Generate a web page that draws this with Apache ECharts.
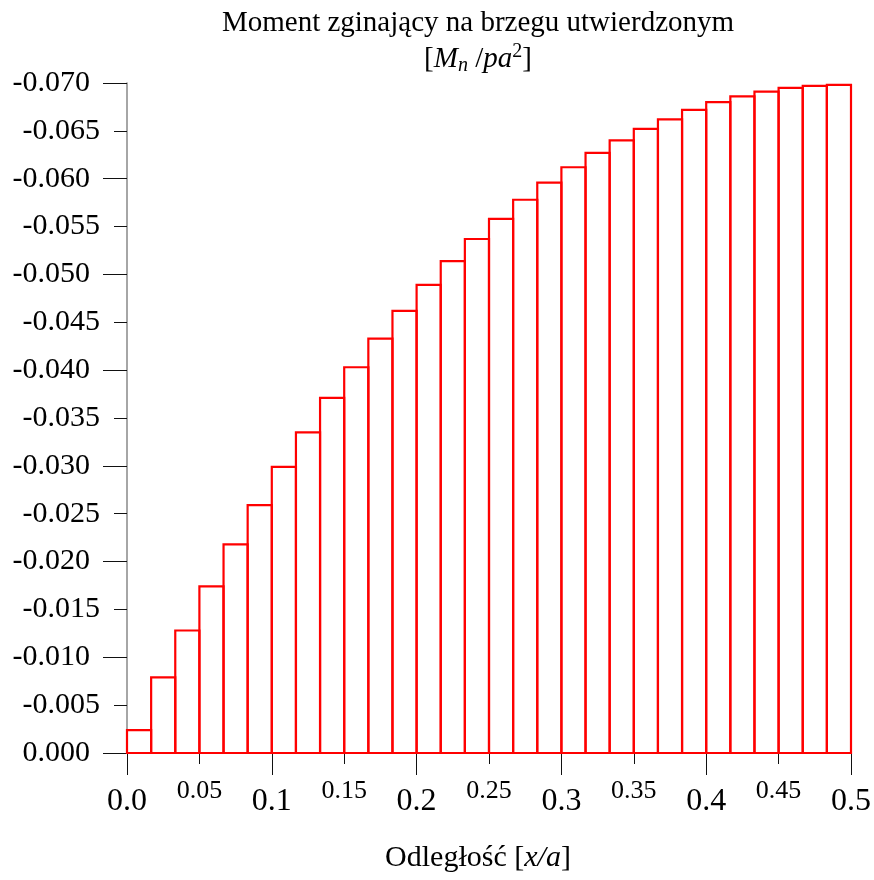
<!DOCTYPE html>
<html>
<head>
<meta charset="utf-8">
<script src="https://cdn.jsdelivr.net/npm/echarts@6/dist/echarts.min.js"></script>
<style>html,body{margin:0;padding:0;background:#fff}#c{width:874px;height:880px}</style>
</head>
<body>
<div id="c"></div>
<script>
// Bin edges along x/a
var binEdges = [0, 0.01667, 0.03333, 0.05, 0.06667, 0.08333, 0.1, 0.11667, 0.13333, 0.15,
  0.16667, 0.18333, 0.2, 0.21667, 0.23333, 0.25, 0.26667, 0.28333, 0.3, 0.31667,
  0.33333, 0.35, 0.36667, 0.38333, 0.4, 0.41667, 0.43333, 0.45, 0.46667, 0.48333, 0.5];
// Bending moment values Mn/pa^2
var moments = [-0.0024, -0.0079, -0.0128, -0.0174, -0.0218, -0.0259, -0.0299, -0.0335, -0.0371, -0.0403,
  -0.0433, -0.0462, -0.0489, -0.0514, -0.0537, -0.0558, -0.0578, -0.0596, -0.0612, -0.0627,
  -0.0640, -0.0652, -0.0662, -0.0672, -0.0680, -0.0686, -0.0691, -0.0695, -0.0697, -0.0698];
var titleLine1 = 'Moment zginający na brzegu utwierdzonym';
var xName = 'Odległość';

var FONT = 'Liberation Serif';
var data = moments.map(function (v, i) { return [binEdges[i], binEdges[i + 1], v]; });

var chart = echarts.init(document.getElementById('c'));
chart.setOption({
  backgroundColor: '#fff',
  animation: false,
  grid: { left: 127, right: 22, top: 83, bottom: 127 },
  xAxis: [{
    type: 'value', min: 0, max: 0.5, interval: 0.1,
    axisLine: { show: true, lineStyle: { color: '#888', width: 1.5 } },
    axisTick: { show: true, length: 22, lineStyle: { color: '#111', width: 1 } },
    splitLine: { show: false },
    axisLabel: { fontFamily: FONT, fontSize: 32, color: '#000', margin: 33,
      formatter: function (v) { return v.toFixed(1); } }
  }, {
    type: 'value', min: 0, max: 0.5, interval: 0.05, position: 'bottom',
    axisLine: { show: false },
    axisTick: { show: true, length: 11, lineStyle: { color: '#111', width: 1 } },
    splitLine: { show: false },
    axisLabel: { fontFamily: FONT, fontSize: 26, color: '#000', margin: 25,
      formatter: function (v) { return Math.round(v * 100) % 10 === 5 ? v.toFixed(2) : ''; } }
  }],
  yAxis: [{
    type: 'value', min: -0.07, max: 0, interval: 0.005, inverse: true,
    axisLine: { show: true, lineStyle: { color: '#888', width: 1.5 } },
    axisTick: { show: true, length: 13, lineStyle: { color: '#111', width: 1 } },
    splitLine: { show: false },
    axisLabel: { fontFamily: FONT, fontSize: 30, color: '#000', margin: 27,
      formatter: function (v) { return Math.round(v * 1000) % 10 !== 0 ? v.toFixed(3) : ''; } }
  }, {
    type: 'value', min: -0.07, max: 0, interval: 0.01, inverse: true, position: 'left',
    axisLine: { show: false },
    axisTick: { show: true, length: 24, lineStyle: { color: '#111', width: 1 } },
    splitLine: { show: false },
    axisLabel: { fontFamily: FONT, fontSize: 30, color: '#000', margin: 37,
      formatter: function (v) { return Math.abs(v) < 1e-9 ? '0.000' : v.toFixed(3); } }
  }],
  graphic: [{
    type: 'text', x: 478, y: 9, z: 10,
    style: { text: titleLine1, fontFamily: FONT, fontSize: 29, fill: '#000', textAlign: 'center' }
  }, {
    type: 'text', x: 478, y: 42, z: 10,
    style: {
      text: '{n|[}{i|M}{sub|n}{n| /}{i|pa}{sup|2}{n|]}',
      fontFamily: FONT, textAlign: 'center',
      rich: {
        n: { fontFamily: FONT, fontSize: 29, fill: '#000', lineHeight: 34 },
        i: { fontFamily: FONT, fontSize: 29, fontStyle: 'italic', fill: '#000', lineHeight: 34 },
        sub: { fontFamily: FONT, fontSize: 20, fontStyle: 'italic', fill: '#000', lineHeight: 34, verticalAlign: 'bottom', padding: [10, 0, 0, 0] },
        sup: { fontFamily: FONT, fontSize: 20, fill: '#000', lineHeight: 34, verticalAlign: 'top', padding: [0, 0, 12, 0] }
      }
    }
  }, {
    type: 'text', x: 478, y: 843, z: 10,
    style: {
      text: '{n|' + xName + ' [}{i|x/a}{n|]}',
      textAlign: 'center',
      rich: {
        n: { fontFamily: FONT, fontSize: 30, fill: '#000' },
        i: { fontFamily: FONT, fontSize: 30, fontStyle: 'italic', fill: '#000' }
      }
    }
  }],
  series: [{
    type: 'custom', xAxisIndex: 0, yAxisIndex: 0, z: 5, clip: false,
    data: data,
    renderItem: function (params, api) {
      var p0 = api.coord([api.value(0), 0]);
      var p1 = api.coord([api.value(1), api.value(2)]);
      return {
        type: 'rect',
        shape: { x: p0[0], y: Math.min(p0[1], p1[1]), width: p1[0] - p0[0], height: Math.abs(p1[1] - p0[1]) },
        style: { fill: 'none', stroke: '#ff0000', lineWidth: 2.2 }
      };
    }
  }]
});
</script>
</body>
</html>
